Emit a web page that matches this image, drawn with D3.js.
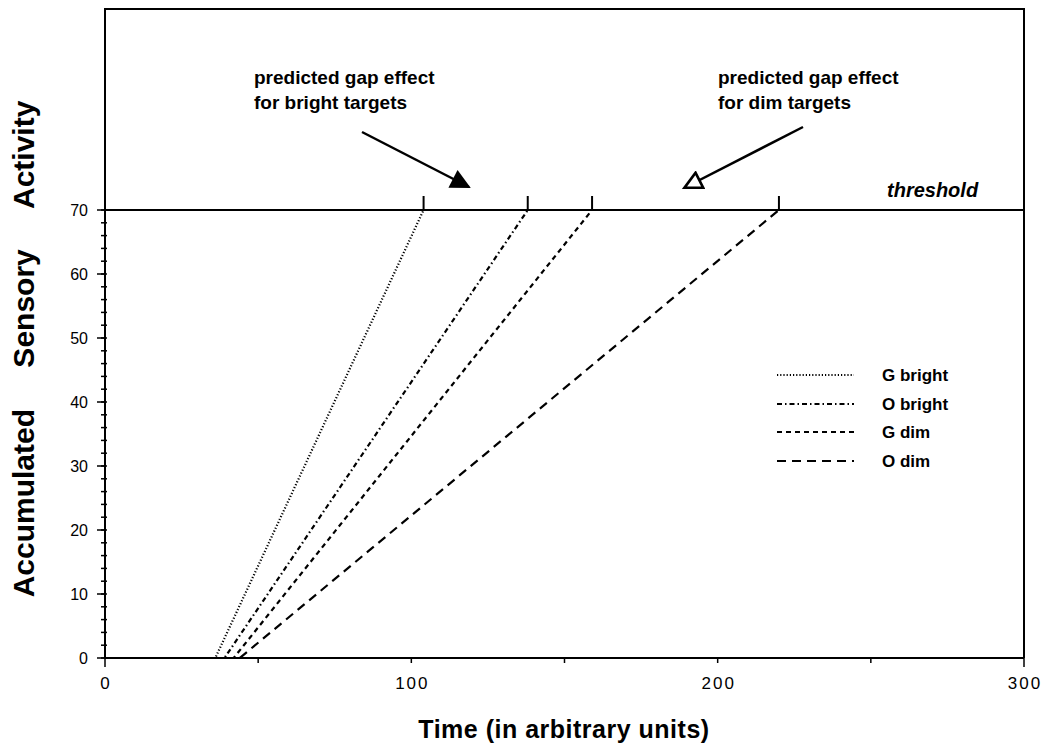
<!DOCTYPE html>
<html>
<head>
<meta charset="utf-8">
<script src="https://cdn.jsdelivr.net/npm/d3@7"></script>
<style>
  body { margin: 0; background: #fff; }
  text { font-family: "Liberation Sans", Arial, sans-serif; fill: #000; }
</style>
</head>
<body>
<div id="chart"></div>
<script>
// Chart data
// --------------------------------------------------------------------------------------------
const seriesNames = ["G bright", "O bright", "G dim", "O dim"]
const onsetTimes  = [36, 39, 42, 44]          // time where activity starts rising
const crossTimes  = [104, 138, 159, 220]      // time where activity reaches threshold
const threshold   = 70
const xTicks      = [0, 100, 200, 300]
const xMinorTicks = [50, 150, 250]
const yTicks      = [0, 10, 20, 30, 40, 50, 60, 70]
const dashes      = ["1.2,2", "5,3,1.5,3", "5,4", "9,6"]

function drawChart(container) {
    const width = 1048, height = 743

    const x = d3.scaleLinear().domain([0, 300]).range([105, 1024])
    const y = d3.scaleLinear().domain([0, 70]).range([658, 210])
    const plotTop = 9

    let svg = d3.select(container).append("svg")
        .attr("width", width)
        .attr("height", height)

    // arrow heads
    let defs = svg.append("defs")
    defs.append("marker").attr("id", "headFill")
        .attr("viewBox", "0 0 10 10").attr("refX", 9).attr("refY", 5)
        .attr("markerUnits", "userSpaceOnUse")
        .attr("orient", "auto")
        .attr("markerWidth", 24).attr("markerHeight", 20)
        .append("path").attr("d", "M0,0 L10,5 L0,10 Z").style("fill", "#000")
    defs.append("marker").attr("id", "headOpen")
        .attr("viewBox", "-1 -1 12 12").attr("refX", 9).attr("refY", 5)
        .attr("markerUnits", "userSpaceOnUse")
        .attr("orient", "auto")
        .attr("markerWidth", 24).attr("markerHeight", 20)
        .append("path").attr("d", "M0,0 L10,5 L0,10 Z")
        .style("fill", "#fff").style("stroke", "#000").style("stroke-width", 1.6)

    // frame
    svg.append("path")
        .attr("d", `M${x(0)},${y(0)} V${plotTop} H${x(300)} V${y(0)}`)
        .style("fill", "none").style("stroke", "#000").style("stroke-width", 2)

    // x axis
    svg.append("line")
        .attr("x1", x(0)).attr("x2", x(300)).attr("y1", y(0)).attr("y2", y(0))
        .style("stroke", "#000").style("stroke-width", 2)
    svg.append("g").selectAll("line").data(xTicks).join("line")
        .attr("x1", d => x(d)).attr("x2", d => x(d))
        .attr("y1", y(0)).attr("y2", d => (d == 0 || d == 300) ? y(0) + 9 : y(0) + 5)
        .style("stroke", "#000").style("stroke-width", 1.5)
    svg.append("g").selectAll("line").data(xMinorTicks).join("line")
        .attr("x1", d => x(d)).attr("x2", d => x(d))
        .attr("y1", y(0)).attr("y2", y(0) + 5)
        .style("stroke", "#000").style("stroke-width", 1.5)
    svg.append("g").selectAll("text").data(xTicks).join("text")
        .attr("x", d => x(d) + 1).attr("y", 689)
        .attr("text-anchor", "middle")
        .style("font-size", "17px").style("letter-spacing", "2px")
        .text(d => d)

    // y axis ticks
    let yMinor = d3.range(0, 71, 2)
    svg.append("g").selectAll("line").data(yMinor).join("line")
        .attr("x1", x(0) - 4).attr("x2", x(0) + 2)
        .attr("y1", d => y(d)).attr("y2", d => y(d))
        .style("stroke", "#000").style("stroke-width", 1.5)
    svg.append("g").selectAll("text").data(yTicks).join("text")
        .attr("x", 88).attr("y", d => y(d) + 6)
        .attr("text-anchor", "end")
        .style("font-size", "16px")
        .text(d => d)
    svg.append("g").selectAll("line").data(yTicks).join("line")
        .attr("x1", x(0) - 8).attr("x2", x(0))
        .attr("y1", d => y(d)).attr("y2", d => y(d))
        .style("stroke", "#000").style("stroke-width", 1.5)

    // axis titles
    svg.append("text")
        .attr("transform", `translate(34,349) rotate(-90)`)
        .attr("text-anchor", "middle")
        .style("font-size", "30px").style("font-weight", "bold")
        .style("word-spacing", "33px")
        .text("Accumulated Sensory Activity")
    svg.append("text")
        .attr("x", 564).attr("y", 738)
        .attr("text-anchor", "middle")
        .style("font-size", "25px").style("font-weight", "bold")
        .style("letter-spacing", "0.5px")
        .text("Time (in arbitrary units)")

    // threshold line and crossing marks
    svg.append("line")
        .attr("x1", x(0)).attr("x2", x(300)).attr("y1", y(threshold)).attr("y2", y(threshold))
        .style("stroke", "#000").style("stroke-width", 2)
    svg.append("g").selectAll("line").data(crossTimes).join("line")
        .attr("x1", d => x(d)).attr("x2", d => x(d))
        .attr("y1", y(threshold)).attr("y2", y(threshold) - 14)
        .style("stroke", "#000").style("stroke-width", 2)
    svg.append("text")
        .attr("x", 887).attr("y", 197)
        .style("font-size", "20px").style("font-weight", "bold").style("font-style", "italic")
        .text("threshold")

    // series lines
    let line = d3.line().x(d => x(d[0])).y(d => y(d[1]))
    let seriesData = seriesNames.map((name, i) => ({
        name: name,
        dash: dashes[i],
        points: [[0, 0], [onsetTimes[i], 0], [crossTimes[i], threshold]]
    }))
    svg.append("g").selectAll("path").data(seriesData).join("path")
        .attr("d", d => line(d.points))
        .style("fill", "none").style("stroke", "#000").style("stroke-width", 2.2)
        .style("stroke-dasharray", d => d.dash)

    // legend
    let legendY = [375, 404, 432, 461]
    let legend = svg.append("g").selectAll("g").data(seriesData).join("g")
        .attr("transform", (d, i) => `translate(777,${legendY[i]})`)
    legend.append("line")
        .attr("x1", 0).attr("x2", 77).attr("y1", 0).attr("y2", 0)
        .style("stroke", "#000").style("stroke-width", 2.2)
        .style("stroke-dasharray", d => d.dash)
    legend.append("text")
        .attr("x", 105).attr("y", 6)
        .style("font-size", "17px").style("font-weight", "bold")
        .text(d => d.name)

    // annotations
    let notes = [
        { lines: ["predicted gap effect", "for bright targets"], x: 254, from: [362, 132], to: [469, 187], head: "headFill" },
        { lines: ["predicted gap effect", "for dim targets"], x: 718, from: [803, 127], to: [686, 187], head: "headOpen" }
    ]
    notes.forEach(n => {
        n.lines.forEach((t, i) => {
            svg.append("text")
                .attr("x", n.x).attr("y", 84 + i * 25)
                .style("font-size", "19px").style("font-weight", "bold")
                .text(t)
        })
        svg.append("line")
            .attr("x1", n.from[0]).attr("y1", n.from[1])
            .attr("x2", n.to[0]).attr("y2", n.to[1])
            .style("stroke", "#000").style("stroke-width", 2.5)
            .attr("marker-end", `url(#${n.head})`)
    })
}

drawChart("#chart")
</script>
</body>
</html>
